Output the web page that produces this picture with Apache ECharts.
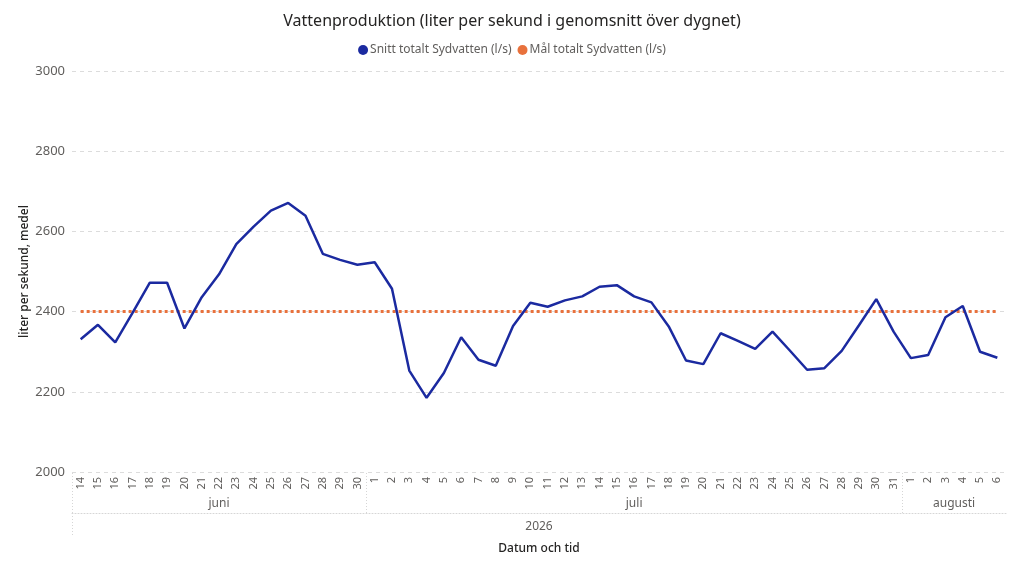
<!DOCTYPE html>
<html>
<head>
<meta charset="utf-8">
<script src="https://cdn.jsdelivr.net/npm/echarts@6/dist/echarts.min.js"></script>
<style>
html, body { margin: 0; padding: 0; background: #fff; }
#chart { width: 1024px; height: 584px; }
</style>
</head>
<body>
<div id="chart"></div>
<script>
// dagar (14 juni - 6 augusti 2026)
const days = [
    '14','15','16','17','18','19','20','21','22','23','24','25','26','27','28','29','30',
    '1','2','3','4','5','6','7','8','9','10','11','12','13','14','15','16','17','18','19','20',
    '21','22','23','24','25','26','27','28','29','30','31',
    '1','2','3','4','5','6'
]
const months = ['juni', 'juli', 'augusti']
const monthDays = [17, 31, 6]
const year = '2026'

const snitt = [
    2331, 2367, 2323, 2397, 2472, 2472, 2358, 2436, 2493, 2568, 2612, 2652, 2671, 2639, 2544, 2529, 2517,
    2523, 2457, 2253, 2185, 2247, 2336, 2280, 2265, 2364, 2422, 2412, 2428, 2438, 2462, 2466, 2438,
    2423, 2363, 2278, 2269, 2346, 2327, 2307, 2350, 2303, 2255, 2259, 2302, 2366, 2431, 2350,
    2284, 2292, 2386, 2414, 2300, 2285
]
const malValue = 2400
const mal = days.map(() => malValue)

// positioner för månads-/årsetiketter och avgränsare (index i kategoriaxeln)
let monthCenters = [], monthEdges = [-0.5], pos = -0.5
monthDays.forEach(n => {
    monthCenters.push(pos + n / 2)
    pos += n
    monthEdges.push(pos)
})
monthEdges.pop()
const total = days.length

const grey = '#605E5C'
const dotted = { color: '#d6d6d6', type: [1, 2], width: 1 }

let chart = echarts.init(document.getElementById('chart'))
chart.setOption({
    textStyle: { fontFamily: 'Noto Sans' },
    title: {
        text: 'Vattenproduktion (liter per sekund i genomsnitt över dygnet)',
        left: 'center',
        top: 8,
        textStyle: { fontSize: 16, fontWeight: 'normal', color: '#252423' }
    },
    legend: {
        top: 39,
        left: 'center',
        icon: 'circle',
        itemWidth: 10,
        itemHeight: 10,
        itemGap: 6,
        textStyle: { fontSize: 12, color: grey, padding: [0, 0, 0, -3] }
    },
    grid: { left: 72, right: 18, top: 71, bottom: 112 },
    xAxis: [
        {
            type: 'category',
            data: days,
            axisLine: { show: false },
            axisTick: { show: false },
            axisLabel: { rotate: 90, fontSize: 11, color: grey, margin: 5, interval: 0 }
        },
        {
            type: 'value',
            position: 'bottom',
            offset: 41,
            min: -0.5,
            max: total - 0.5,
            axisLine: { show: true, lineStyle: dotted },
            axisTick: { show: true, inside: true, length: 41, lineStyle: dotted, customValues: monthEdges },
            axisLabel: {
                inside: true, margin: 3, fontSize: 12, color: grey,
                customValues: monthCenters,
                formatter: v => months[monthCenters.indexOf(v)]
            },
            splitLine: { show: false }
        },
        {
            type: 'value',
            position: 'bottom',
            offset: 63,
            min: -0.5,
            max: total - 0.5,
            name: 'Datum och tid',
            nameLocation: 'middle',
            nameGap: 8,
            nameTextStyle: { fontSize: 12, color: '#252423', fontWeight: 500 },
            axisLine: { show: false },
            axisTick: { show: true, inside: true, length: 22, lineStyle: dotted, customValues: [-0.5] },
            axisLabel: {
                inside: true, margin: 2, fontSize: 12, color: grey,
                customValues: [(total - 1) / 2],
                formatter: () => year
            },
            splitLine: { show: false }
        }
    ],
    yAxis: {
        type: 'value',
        min: 2000,
        max: 3000,
        interval: 200,
        name: 'liter per sekund, medel',
        nameLocation: 'middle',
        nameGap: 41,
        nameMoveOverlap: false,
        nameTextStyle: { fontSize: 12, color: '#252423', fontWeight: 500 },
        axisLine: { show: false, onZero: false },
        axisTick: { show: false },
        axisLabel: { fontSize: 13, color: grey, margin: 7, formatter: v => String(v) },
        splitLine: { lineStyle: { color: '#dcdcdc', type: [4, 4] } }
    },
    series: [
        {
            name: 'Snitt totalt Sydvatten (l/s)',
            type: 'line',
            data: snitt,
            symbol: 'none',
            color: '#1B2AA0',
            lineStyle: { width: 2.5 },
            z: 3
        },
        {
            name: 'Mål totalt Sydvatten (l/s)',
            type: 'line',
            data: mal,
            symbol: 'none',
            color: '#E8713C',
            lineStyle: { width: 3, type: [3, 3] },
            z: 2
        }
    ]
})
</script>
</body>
</html>
